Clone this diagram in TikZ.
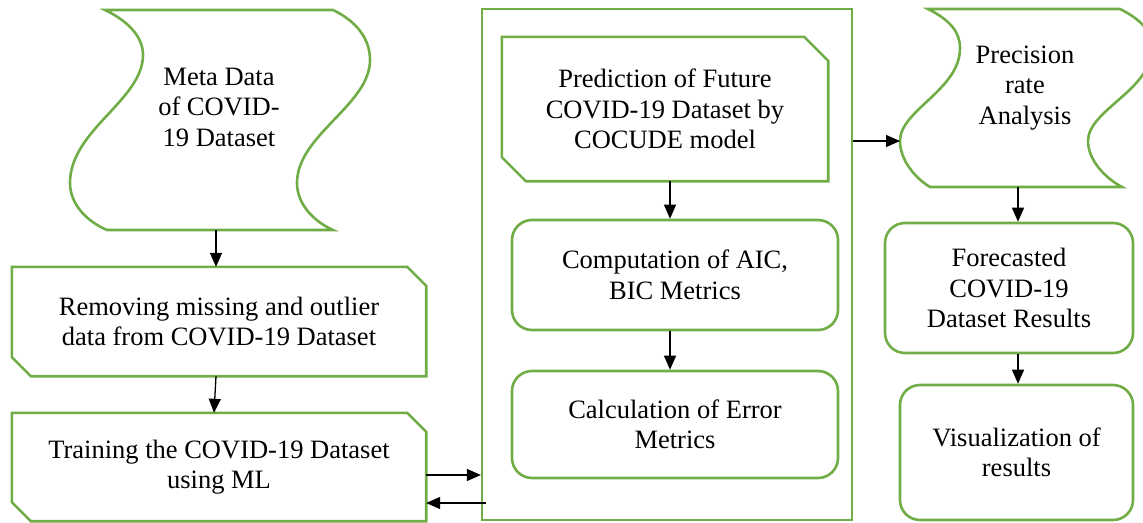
\documentclass[tikz,border=0pt]{standalone}
\usepackage{fontspec}
\setmainfont{Liberation Serif}
\usetikzlibrary{arrows.meta,calc}
\definecolor{gr}{HTML}{70AD47}
\tikzset{
  outl/.style={draw=gr, line width=2.6pt},
  txt/.style={align=center, font=\fontsize{26.5}{30.5}\selectfont, inner sep=0pt},
  holder/.style={draw=none, inner sep=0pt},
  rbox/.style={outl, rounded corners=20pt, inner sep=0pt, align=center, font=\fontsize{26.5}{30.5}\selectfont},
  arr/.style={-{Triangle[length=14pt,width=12pt]}, line width=1.3pt},
}
\newcommand\snipbox[2]{\draw[outl] (#1.north west) -- ([xshift=-#2]#1.north east) -- ([yshift=-#2]#1.north east) -- (#1.south east) -- ([xshift=#2]#1.south west) -- ([yshift=#2]#1.south west) -- cycle;}
\begin{document}
\begin{tikzpicture}[x=1pt,y=-1pt]
\useasboundingbox (0,0) rectangle (1143,522);
\fill[white] (0,0) rectangle (1143,522);

% Meta data tape
\node[holder, minimum width=228pt, minimum height=220pt] (meta) at (219,120) {};
\draw[outl] (105,10) -- (333,10)
  .. controls (358,22) and (370,40) .. (370,60)
  .. controls (370,105) and (297,135) .. (297,183)
  .. controls (297,205) and (315,222) .. (333,230)
  -- (107,230)
  .. controls (88,222) and (70,205) .. (70,183)
  .. controls (70,130) and (143,100) .. (143,55)
  .. controls (143,38) and (130,22) .. (105,10) -- cycle;
\node[txt] (metat) at (219,107) {Meta Data\\of COVID-\\19 Dataset};

% Removing
\node[holder, txt, minimum width=414pt, minimum height=109pt] (remove) at (219,321.5) {Removing missing and outlier\\data from COVID-19 Dataset};
\snipbox{remove}{19pt}

% Training
\node[holder, txt, minimum width=414pt, minimum height=108pt] (train) at (219,467) {Training the COVID-19 Dataset\\using ML};
\snipbox{train}{19pt}

% Container
\node[outl, line width=2.3pt, inner sep=0pt, minimum width=370pt, minimum height=511pt] (cont) at (667,264.5) {};

% Prediction
\node[holder, txt, minimum width=326pt, minimum height=144pt] (pred) at (665,109) {Prediction of Future\\COVID-19 Dataset by\\COCUDE model};
\snipbox{pred}{24pt}

\node[rbox, minimum width=326pt, minimum height=110pt] (comp) at (675,275) {Computation of AIC,\\BIC Metrics};
\node[rbox, minimum width=326pt, minimum height=107pt] (calc) at (675,424.5) {Calculation of Error\\Metrics};

% Precision tape
\node[holder, minimum width=250pt, minimum height=178pt] (prec) at (1025,98) {};
\draw[outl] (928,9) -- (1120,9)
  .. controls (1142,20) and (1152,32) .. (1152,48)
  .. controls (1152,90) and (1088,110) .. (1088,141)
  .. controls (1088,160) and (1105,178) .. (1122,187)
  -- (930,187)
  .. controls (915,178) and (900,160) .. (900,141)
  .. controls (900,110) and (960,90) .. (960,48)
  .. controls (960,32) and (950,20) .. (928,9) -- cycle;
\node[txt] (prect) at (1025,88) {Precision\\rate\\Analysis};
\coordinate (precin) at (900,141);

\node[rbox, minimum width=248pt, minimum height=130pt] (fore) at (1009,288) {Forecasted\\COVID-19\\Dataset Results};
\node[rbox, minimum width=233pt, minimum height=135pt] (vis) at (1016.5,452.5) {Visualization of\\results};

% Arrows
\draw[arr] ([xshift=-3pt]meta.south) -- ([xshift=-3pt]remove.north);
\draw[arr] ([xshift=-3pt]remove.south) -- ([xshift=-5pt]train.north);
\coordinate (tout) at ([yshift=-8pt]train.east);
\draw[arr] (tout) -- (tout -| cont.west);
\coordinate (tback) at ([yshift=-36pt]train.east);
\coordinate (cback) at ($(tback -| cont.west)+(5,0)$);
\draw[arr] (cback) -- (tback);
\draw[arr] ([xshift=5pt]pred.south) -- ([xshift=-5pt]comp.north);
\draw[arr] ([xshift=-5pt]comp.south) -- ([xshift=-5pt]calc.north);
\draw[arr] (cont.east |- precin) -- (precin);
\draw[arr] ([xshift=-7pt]prec.south) -- ([xshift=9pt]fore.north);
\draw[arr] ([xshift=9pt]fore.south) -- ([xshift=1.5pt]vis.north);
\end{tikzpicture}
\end{document}
